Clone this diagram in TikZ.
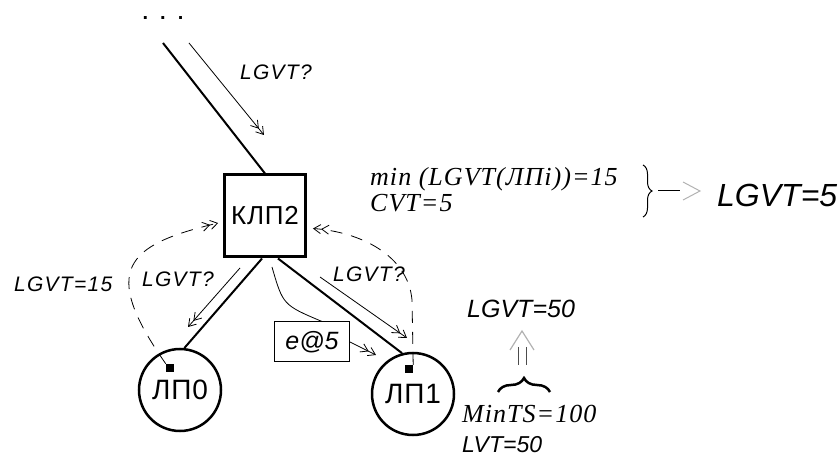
\documentclass[tikz,border=0pt]{standalone}
\usepackage{fontspec}
\setmainfont{Liberation Sans}
\newfontfamily\labfont[LetterSpace=6]{Liberation Sans}
\newfontfamily\namefont[LetterSpace=3]{Liberation Sans}
\newfontfamily\notefont[LetterSpace=4]{Liberation Serif}
\usetikzlibrary{arrows.meta, decorations.pathreplacing}

\begin{document}
\begin{tikzpicture}[x=1pt, y=-1pt,
    link/.style={line width=2pt},
    msg/.style={line width=0.8pt, -{Straight Barb[length=7pt,width=9pt] Straight Barb[length=7pt,width=9pt]}},
    ack/.style={msg, dash pattern=on 12pt off 9pt},
    lbl/.style={inner sep=0pt, anchor=base west, font=\labfont\itshape\fontsize{21}{24}\selectfont},
    big/.style={inner sep=0pt, anchor=base west, font=\itshape\fontsize{#1}{#1}\selectfont},
    note/.style={inner sep=0pt, anchor=base west, font=\notefont\itshape\fontsize{26}{30}\selectfont},
    port/.style={fill, inner sep=0pt, minimum size=8pt},
    lp/.style={circle, draw, line width=2.5pt, minimum size=82pt, font=\namefont\fontsize{28}{30}\selectfont}]
    \useasboundingbox (0,0) rectangle (839,457);

    % processes
    \node[inner sep=0pt, anchor=base, font=\bfseries\fontsize{20}{22}\selectfont] (dots) at (163,20) {.\hspace{12pt}.\hspace{12pt}.};
    \coordinate (up) at (163,43);
    \node[draw, line width=3pt, minimum width=81pt, minimum height=82pt,
          font=\namefont\fontsize{26}{28}\selectfont] (klp2) at (265,216) {КЛП2};
    \node[lp] (lp0) at (180,390) {ЛП0};
    \node[lp] (lp1) at (413,394) {ЛП1};
    \node[port] (p0) at (170,368) {};
    \node[port] (p1) at (409,369) {};
    \node[draw, line width=1pt, minimum width=75pt, minimum height=40pt,
          font=\itshape\fontsize{25}{28}\selectfont] (e5) at (312,342) {e@5};

    \draw[link] (up) -- (klp2.north);
    \draw[link] (klp2.266) -- (lp0.84);
    \draw[link] (klp2.287) -- (lp1.105);

    % requests
    \coordinate (ask0) at (189,43);
    \coordinate (got0) at (264,135);
    \coordinate (ask1) at (240,268);
    \coordinate (got1) at (188,327);
    \coordinate (ask2) at (320,277);
    \coordinate (got2) at (407,338);
    \coordinate (ev0) at (272,267);
    \coordinate (ev1) at (376,355);
    \draw[msg] (ask0) -- (got0);
    \draw[msg] (ask1) -- (got1);
    \draw[msg] (ask2) -- (got2);
    \draw[line width=0.8pt] (ev0) .. controls (283,305) .. ([xshift=10pt]e5.north);
    \draw[msg] (e5.east) -- (ev1);

    % replies
    \draw[ack, shorten >=5pt] (p0.north west) .. controls (100,270) and (125,245) .. (klp2.188);
    \draw[ack, shorten >=6pt] (p1.north east) -- (412,300) .. controls (408,255) and (360,232) .. (klp2.344);

    \node[lbl] (q0) at (240,80) {LGVT?};
    \node[lbl] (q1) at (142,287) {LGVT?};
    \node[lbl] (q2) at (333,282) {LGVT?};
    \node[lbl] (r0) at (14,292) {LGVT=15};

    % result on KLP2
    \node[note] (minv) at (370,186) {min (LGVT(ЛПi))=15};
    \node[note] (cvt) at (370,212) {CVT=5};
    \draw[decorate, decoration={brace, amplitude=9pt}, line width=1pt] (643,165) -- (643,217);
    \coordinate (bt) at (658,191);
    \coordinate (bh) at (680,191);
    \draw[line width=1pt] (bt) -- (bh);
    \draw[gray!60, line width=1pt] (683,182) -- (700,191) -- (683,200);
    \node[big=32] (lgvt5) at (717,207) {LGVT=5};

    % result on LP1
    \node[big=25] (lgvt50) at (467,318) {LGVT=50};
    \draw[gray!60, line width=1.2pt] (510,350) -- (522,331) -- (534,350);
    \draw[black!70, line width=1pt] (518,347) -- (518,365) (526,347) -- (526,365);
    \draw[decorate, decoration={brace, amplitude=14pt}, line width=2.5pt] (498,392) -- (550,392);
    \node[note] (mints) at (462,422) {MinTS=100};
    \node[big=23] (lvt) at (462,453) {LVT=50};
\end{tikzpicture}
\end{document}
